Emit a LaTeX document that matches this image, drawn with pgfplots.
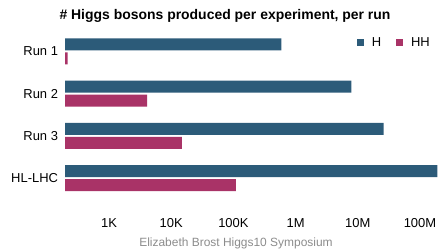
\documentclass[border=0pt]{standalone}
\usepackage{fontspec}
\setmainfont{Liberation Sans}
\usepackage{pgfplots}
\pgfplotsset{compat=1.18}
\definecolor{cH}{HTML}{2C5B79}
\definecolor{cHH}{HTML}{A93367}
\begin{document}
\begin{tikzpicture}[x=1bp,y=1bp]
\useasboundingbox (0,0) rectangle (439,250);
\begin{axis}[
 at={(65bp,45bp)}, anchor=south west,
 scale only axis, width=373bp, height=177bp,
 xmode=log, log origin x=infty,
 xmin=196, xmax=1.95e8,
 ymin=-0.64, ymax=3.557,
 xbar, bar width=12bp,
 axis line style={draw=none}, major tick length=0pt, minor tick length=0pt,
 xminorticks=false,
 xtick={1e3,1e4,1e5,1e6,1e7,1e8},
 xticklabels={1K,10K,100K,1M,10M,100M},
 ytick={0,1,2,3}, yticklabels={HL-LHC,Run 3,Run 2,Run 1},
 tick label style={font=\fontsize{13}{15}\selectfont},
 xticklabel style={yshift=-10pt},
 yticklabel style={xshift=-3.5pt},
 legend columns=2,
 legend image code/.code={\fill[#1] (0bp,-3.5bp) rectangle (7bp,3.5bp);},
 legend style={draw=none, fill=none, inner sep=0pt, font=\fontsize{13}{15}\selectfont,
   nodes={inner sep=0pt},
   at={(1,0.918)}, anchor=east, xshift=-8bp,
   /tikz/every odd column/.append style={column sep=8bp},
   /tikz/every even column/.append style={column sep=15bp}},
]
\addplot[fill=cH, draw=none, bar shift=7bp] coordinates {(5.9e5,3) (7.9e6,2) (2.6e7,1) (1.9e8,0)};
\addplot[fill=cHH, draw=none, bar shift=-7bp] coordinates {(215,3) (4.1e3,2) (1.48e4,1) (1.1e5,0)};
\legend{H,HH}
\end{axis}
\node[font=\fontsize{14}{16}\selectfont\bfseries] at (225,234) {\# Higgs bosons produced per experiment, per run};
\node[font=\fontsize{12}{14}\selectfont, text=black!45] at (236,7) {Elizabeth Brost Higgs10 Symposium};
\end{tikzpicture}
\end{document}
